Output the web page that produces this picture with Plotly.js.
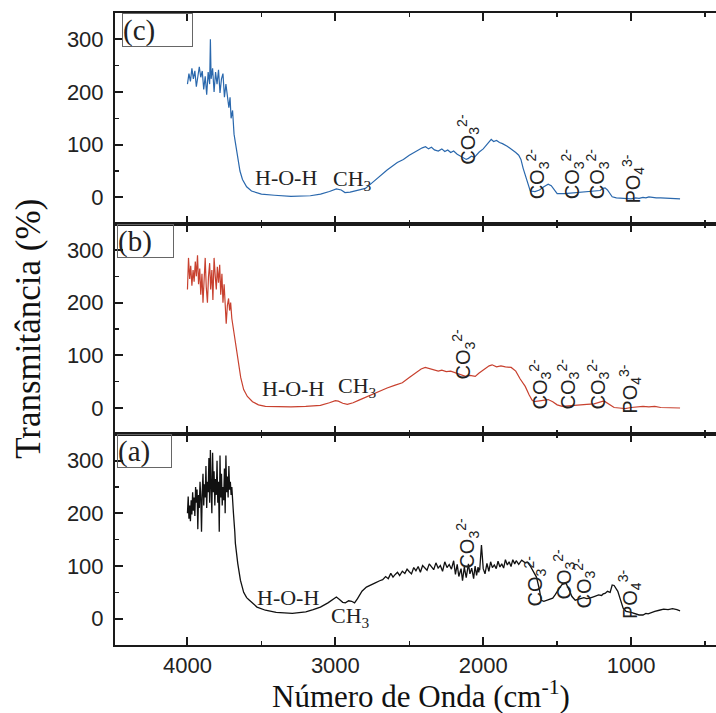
<!DOCTYPE html>
<html>
<head>
<meta charset="utf-8">
<script src="https://cdn.plot.ly/plotly-3.0.1.min.js"></script>
<style>html,body{margin:0;padding:0;background:#fff;}#chart{width:716px;height:713px;}</style>
</head>
<body>
<div id="chart"></div>
<script>
// ---- Data ----
// Spectrum (c) – blue
const xC = [4000,3990,3980,3970,3960,3950,3940,3930,3920,3910,3900,3890,3880,3870,3860,3850,3845,3840,3830,3820,3810,3800,3790,3780,3770,3760,3750,3740,3730,3720,3712,3705,3695,3685,3676,3660,3645,3628,3600,3567,3500,3412,3300,3169,3100,3040,2993,2960,2935,2900,2850,2797,2750,2703,2650,2581,2540,2500,2460,2412,2390,2370,2350,2330,2304,2280,2260,2240,2220,2200,2176,2150,2130,2115,2100,2080,2060,2040,2027,2000,1980,1960,1946,1930,1910,1890,1870,1838,1810,1780,1760,1745,1730,1710,1695,1682,1650,1620,1590,1561,1540,1520,1500,1450,1400,1350,1300,1250,1210,1190,1176,1160,1140,1128,1100,1050,1000,970,946,920,900,880,860,830,800,760,720,669];
const yC = [215,235,220,245,225,240,210,232,248,228,240,205,230,195,238,215,300,225,245,200,238,215,242,198,225,235,190,215,185,170,190,150,165,120,104,75,50,34,20,12,6,4,2,3,6,11,16,14,9,10,13,17,28,40,52,66,72,80,87,94,96,92,95,90,88,92,87,90,85,88,82,78,75,72,74,78,76,82,86,92,98,104,110,106,108,104,102,97,92,85,80,72,55,35,20,12,11,14,20,25,22,14,7,7,8,9,10,11,13,17,18,14,5,1,-1,-2,-3,-1,-2,0,-1,1,0,-1,-1,-2,-2,-3];

// Spectrum (b) – red
const xB = [4000,3993,3985,3978,3970,3962,3955,3947,3940,3932,3925,3917,3910,3902,3895,3888,3880,3873,3865,3858,3850,3843,3835,3828,3820,3812,3805,3798,3790,3782,3775,3767,3760,3752,3745,3738,3730,3722,3715,3708,3700,3689,3675,3662,3640,3620,3595,3560,3520,3473,3400,3300,3200,3101,3040,3000,2980,2950,2919,2880,2840,2800,2750,2703,2650,2600,2547,2500,2450,2420,2392,2370,2340,2304,2280,2250,2220,2200,2176,2150,2120,2090,2054,2030,2000,1980,1960,1940,1910,1880,1850,1811,1780,1750,1716,1690,1670,1655,1620,1590,1561,1530,1500,1466,1400,1350,1300,1250,1210,1190,1176,1150,1115,1080,1040,1000,960,920,880,840,800,760,720,669];
const yB = [225,285,245,270,232,262,240,278,250,290,235,265,215,255,200,240,285,230,200,248,275,225,262,205,285,250,225,268,238,272,215,255,200,235,180,160,195,208,185,200,170,149,120,92,58,35,22,12,6,3,2,2,3,5,10,14,13,9,7,10,15,20,26,31,38,43,48,58,68,74,77,75,72,70,72,69,70,68,67,63,60,62,60,66,72,76,80,82,78,80,78,77,70,55,41,25,15,12,13,15,16,12,6,3,5,6,7,8,11,13,12,7,1,0,-1,1,2,3,2,3,1,1,0,0];

// Spectrum (a) – black
const xA = [4000,3995,3990,3985,3980,3975,3970,3965,3960,3955,3950,3945,3940,3935,3930,3925,3920,3915,3910,3905,3900,3895,3890,3885,3880,3875,3870,3865,3860,3855,3850,3845,3840,3835,3830,3825,3820,3815,3810,3805,3800,3795,3790,3785,3780,3775,3770,3765,3760,3755,3750,3745,3740,3735,3730,3725,3720,3715,3710,3705,3700,3695,3689,3680,3676,3660,3642,3620,3600,3581,3530,3473,3400,3291,3200,3150,3101,3050,3010,2993,2970,2950,2932,2910,2890,2870,2850,2820,2790,2764,2730,2700,2680,2660,2642,2625,2610,2595,2580,2565,2547,2530,2515,2500,2485,2470,2455,2440,2425,2410,2395,2380,2365,2350,2335,2320,2305,2290,2275,2260,2245,2230,2215,2200,2188,2176,2165,2150,2140,2128,2115,2100,2090,2078,2065,2055,2045,2035,2030,2027,2024,2012,2000,1988,1975,1962,1950,1938,1925,1912,1900,1887,1875,1862,1850,1837,1825,1812,1800,1787,1777,1760,1740,1716,1700,1682,1660,1640,1620,1608,1590,1570,1550,1530,1514,1500,1485,1466,1440,1420,1400,1378,1350,1320,1300,1280,1250,1220,1200,1189,1176,1160,1142,1128,1115,1090,1054,1034,1000,970,946,920,900,885,860,840,810,780,750,720,690,669];
const yA = [200,232,190,215,185,225,198,240,205,230,195,250,220,245,170,235,210,260,230,165,240,275,215,255,230,290,210,260,240,305,220,320,250,200,315,240,280,215,265,235,300,220,260,165,310,230,275,215,250,225,285,200,310,240,270,230,290,245,260,235,250,215,200,165,143,105,73,50,40,35,22,16,12,10,13,17,22,30,38,41,36,31,30,34,33,30,38,52,60,63,68,72,74,80,76,86,79,84,88,82,90,86,94,89,85,97,91,99,88,101,96,92,104,99,93,106,96,101,90,108,97,103,94,110,84,103,80,95,72,98,78,104,85,96,76,100,82,98,88,96,92,140,95,85,105,90,108,97,102,95,109,98,104,96,112,102,108,99,112,104,110,103,111,106,107,100,88,79,55,35,33,35,36,39,45,52,58,65,67,55,42,35,37,40,38,39,42,45,44,47,48,52,50,64,63,52,20,14,12,10,7,7,10,9,12,14,16,18,17,19,17,15,14,13,12,11];

// Tick values / labels
const xTickVals = [4000, 3000, 2000, 1000];
const xTickText = ['4000', '3000', '2000', '1000'];
const yTickVals = [0, 100, 200, 300];
const yTickText = ['0', '100', '200', '300'];

const panelLabels = ['(a)', '(b)', '(c)'];
const xTitle = 'Número de Onda (cm<sup>-1</sup>)';
const yTitle = 'Transmitância (%)';

const co3 = 'CO<sub>3</sub><sup>2-</sup>';
const po4 = 'PO<sub>4</sub><sup>3-</sup>';
// band label positions [x, y] per panel
const bandsA = {hoh:[3318,41], ch3:[2899,3], coTop:[2108,143], co1:[1649,71], co2:[1453,84], co3:[1318,67], po:[1007,45]};
const bandsB = {hoh:[3284,37], ch3:[2851,39], coTop:[2135,102], co1:[1615,45], co2:[1426,45], co3:[1223,45], po:[1007,35]};
const bandsC = {hoh:[3331,38], ch3:[2885,32], coTop:[2101,110], co1:[1635,44], co2:[1399,44], co3:[1230,44], po:[986,34]};

// ---- Plot ----
const sans = 'Liberation Sans, Arial, sans-serif';
const serif = 'Liberation Serif, Times New Roman, serif';
const axisColor = '#1a1a1a';

const traces = [
  {x: xA, y: yA, xaxis: 'x', yaxis: 'y', type: 'scatter', mode: 'lines', line: {color: '#111111', width: 1.3}, hoverinfo: 'skip'},
  {x: xB, y: yB, xaxis: 'x2', yaxis: 'y2', type: 'scatter', mode: 'lines', line: {color: '#c8412f', width: 1.2}, hoverinfo: 'skip'},
  {x: xC, y: yC, xaxis: 'x3', yaxis: 'y3', type: 'scatter', mode: 'lines', line: {color: '#2a68ad', width: 1.2}, hoverinfo: 'skip'}
];

function xAxis(anchor, showLabels) {
  return {
    anchor: anchor, range: [4490, 426], showgrid: false, zeroline: false,
    showline: true, linecolor: axisColor, linewidth: 2, mirror: 'ticks',
    ticks: 'inside', ticklen: 8, tickwidth: 2, tickcolor: axisColor,
    tickvals: xTickVals, ticktext: xTickText, showticklabels: showLabels,
    tickfont: {family: sans, size: 22, color: '#222'},
    minor: {dtick: 500, tick0: 0, ticks: 'inside', ticklen: 4, tickwidth: 1.5, tickcolor: axisColor, showgrid: false}
  };
}
function yAxis(anchor, domain) {
  return {
    anchor: anchor, domain: domain, range: [-50, 350], showgrid: false, zeroline: false,
    showline: true, linecolor: axisColor, linewidth: 2,
    ticks: 'inside', ticklen: 8, tickwidth: 2, tickcolor: axisColor,
    tickvals: yTickVals, ticktext: yTickText, ticklabelstandoff: 5,
    tickfont: {family: sans, size: 22, color: '#222'},
    minor: {dtick: 50, tick0: 0, ticks: 'inside', ticklen: 4, tickwidth: 1.5, tickcolor: axisColor, showgrid: false}
  };
}

const annotations = [];
function addBands(b, xr, yr) {
  const base = {xref: xr, yref: yr, showarrow: false, font: {family: sans, size: 20, color: '#222'}};
  annotations.push(Object.assign({}, base, {x: b.hoh[0], y: b.hoh[1], text: 'H-O-H', font: {family: serif, size: 22, color: '#222'}}));
  annotations.push(Object.assign({}, base, {x: b.ch3[0], y: b.ch3[1], text: 'CH<sub>3</sub>', font: {family: serif, size: 22, color: '#222'}}));
  ['coTop', 'co1', 'co2', 'co3'].forEach(k => {
    annotations.push(Object.assign({}, base, {x: b[k][0], y: b[k][1], text: co3, textangle: -90}));
  });
  annotations.push(Object.assign({}, base, {x: b.po[0], y: b.po[1], text: po4, textangle: -90}));
}
addBands(bandsA, 'x', 'y');
addBands(bandsB, 'x2', 'y2');
addBands(bandsC, 'x3', 'y3');

// panel label boxes (paper coordinates)
const boxes = [
  {t: panelLabels[0], x: 0.003, y: 1/3, w: 53},
  {t: panelLabels[1], x: 0.003, y: 2/3, w: 55},
  {t: panelLabels[2], x: 0.011, y: 1.0, w: 69}
];
boxes.forEach(b => annotations.push({
  xref: 'paper', yref: 'paper', x: b.x, y: b.y, xanchor: 'left', yanchor: 'top',
  text: b.t, showarrow: false, align: 'left', width: b.w, height: 32,
  font: {family: serif, size: 29, color: '#222'},
  bordercolor: '#666', borderwidth: 1, borderpad: 0, bgcolor: 'rgba(255,255,255,0)'
}));

annotations.push({xref: 'paper', yref: 'paper', x: 0.509, xanchor: 'center', y: -0.112, yanchor: 'bottom', text: xTitle, showarrow: false,
  font: {family: serif, size: 31, color: '#111'}});
annotations.push({xref: 'paper', yref: 'paper', x: -0.145, xanchor: 'center', y: 0.5, yanchor: 'middle', text: yTitle, textangle: -90, showarrow: false,
  font: {family: serif, size: 35, color: '#111'}});

const layout = {
  width: 716, height: 713,
  margin: {l: 115, r: 0, t: 13, b: 68},
  paper_bgcolor: '#fff', plot_bgcolor: '#fff',
  showlegend: false,
  xaxis: xAxis('y', true),
  xaxis2: xAxis('y2', false),
  xaxis3: xAxis('y3', false),
  yaxis: yAxis('x', [0, 1/3]),
  yaxis2: yAxis('x2', [1/3, 2/3]),
  yaxis3: yAxis('x3', [2/3, 1]),
  annotations: annotations
};

Plotly.newPlot('chart', traces, layout, {staticPlot: true, displayModeBar: false});
</script>
</body>
</html>
